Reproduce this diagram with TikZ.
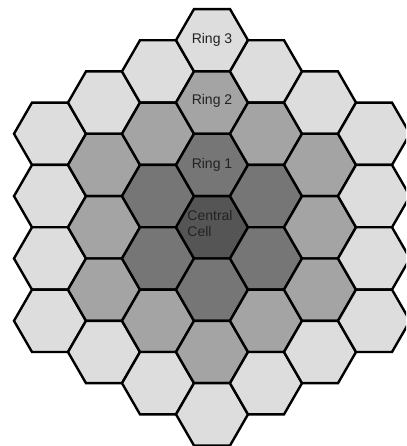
\documentclass[tikz,border=0pt]{standalone}
\usepackage{fontspec}
\setmainfont{Liberation Sans}
\definecolor{ringzero}{HTML}{555555}
\definecolor{ringone}{HTML}{767676}
\definecolor{ringtwo}{HTML}{A4A4A4}
\definecolor{ringthree}{HTML}{DDDDDD}
\definecolor{labeltext}{HTML}{222222}
\tikzset{
  cell/.style={draw=black, line width=2.4pt, line join=miter},
  ringlabel/.style={font=\fontsize{14}{15.5}\selectfont, text=labeltext, inner sep=0pt}
}
\begin{document}
\begin{tikzpicture}[x=1pt,y=1pt]
\useasboundingbox (0,0) rectangle (406,446);
\begin{scope}
\clip (0,0) rectangle (406,446);
\foreach \q in {-3,...,3}{
  \foreach \r in {-3,...,3}{
    \pgfmathtruncatemacro\ring{max(abs(\q),abs(\r),abs(\q+\r))}
    \ifnum\ring<4
      \pgfmathsetmacro\cx{212+54*\q}
      \pgfmathsetmacro\cy{218.7-62.354*(\r+\q/2)}
      \ifcase\ring
        \def\cellcol{ringzero}\or
        \def\cellcol{ringone}\or
        \def\cellcol{ringtwo}\or
        \def\cellcol{ringthree}\fi
      \draw[cell, fill=\cellcol] (\cx,\cy) +(0:36pt) -- +(60:36pt) -- +(120:36pt)
        -- +(180:36pt) -- +(240:36pt) -- +(300:36pt) -- cycle;
    \fi
  }
}
\end{scope}
\node[ringlabel] (ring3) at (212,405.8) {Ring 3};
\node[ringlabel] (ring2) at (212,345) {Ring 2};
\node[ringlabel] (ring1) at (212,281.1) {Ring 1};
\node[ringlabel, align=left] (central) at (210,222.5) {Central\\Cell};
\end{tikzpicture}
\end{document}
